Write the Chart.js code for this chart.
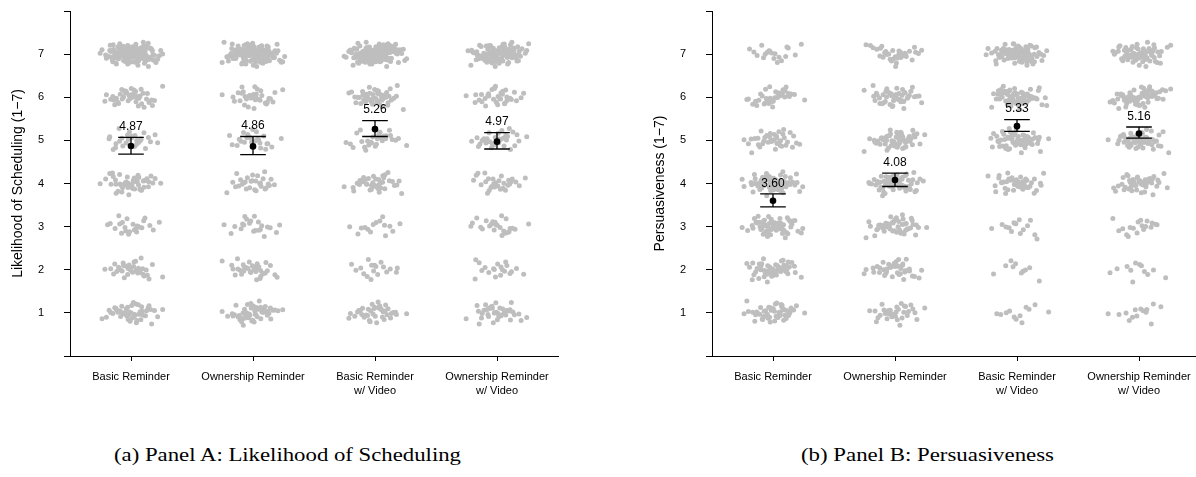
<!DOCTYPE html>
<html><head><meta charset="utf-8">
<script src="https://cdn.jsdelivr.net/npm/chart.js@4/dist/chart.umd.min.js"></script>
<style>
html,body{margin:0;padding:0;background:#fff;overflow:hidden;}
#wrap{position:relative;width:1196px;height:477px;overflow:hidden;background:#fff;}
canvas{position:absolute;top:0;}
#cA{left:0;} #cB{left:598px;}
.cap{position:absolute;top:444px;font-family:"Liberation Serif","DejaVu Serif",serif;font-size:19px;white-space:nowrap;color:#000;transform-origin:left top;}
</style></head>
<body>
<div id="wrap">
<canvas id="cA" width="598" height="400"></canvas>
<canvas id="cB" width="640" height="400"></canvas>
<span class="cap" id="capA" data-cx="287" data-w="347">(a) Panel A: Likelihood of Scheduling</span>
<span class="cap" id="capB" data-cx="927" data-w="253">(b) Panel B: Persuasiveness</span>
</div>
<script>
// ---- data ----
const categories = [["Basic Reminder"], ["Ownership Reminder"], ["Basic Reminder", "w/ Video"], ["Ownership Reminder", "w/ Video"]];
const levels = [1, 2, 3, 4, 5, 6, 7];
const yTickValues = [0, 1, 2, 3, 4, 5, 6, 7, 8];

// number of responses at each level 1..7 per condition
const countsA = [
  [50, 35, 25, 55, 30, 45, 158],
  [55, 35, 22, 30, 25, 35, 157],
  [40, 18, 15, 40, 30, 50, 163],
  [40, 20, 25, 30, 35, 35, 128]
];
const countsB = [
  [52, 55, 65, 70, 40, 40, 20],
  [35, 40, 50, 70, 60, 50, 35],
  [12, 10, 15, 45, 65, 75, 90],
  [14, 12, 18, 45, 55, 70, 75]
];
const meansA = [4.87, 4.86, 5.26, 4.97];
const ciLowA = [4.68, 4.67, 5.09, 4.80];
const ciHighA = [5.07, 5.09, 5.46, 5.18];
const meansB = [3.60, 4.08, 5.33, 5.16];
const ciLowB = [3.46, 3.93, 5.21, 5.05];
const ciHighB = [3.76, 4.24, 5.48, 5.31];

// fixed jitter table (standard-normal-like offsets)
const jitterX = [0.31,-1.18,0.77,-0.12,1.52,-0.64,0.05,2.08,-0.93,0.42,-1.71,0.68,-0.27,1.13,-0.49,0.19,-2.26,0.88,-0.81,1.34,-0.18,0.57,-1.42,0.11,1.83,-0.72,0.46,-1.03,0.29,-0.38,1.61,-1.14,0.02,0.83,-1.92,1.21,-0.33,0.39,-0.58,2.47,-0.22,0.71,-1.27,0.94,-0.07,-0.84,1.41,0.24,-1.58,0.63,-0.44,1.02,-0.15,0.52,-2.04,0.36,-0.69,1.28,-0.97,0.13,0.79,-1.36,0.58,-0.03,1.67,-0.52,0.21,-1.11,0.91,-0.26,-0.61,1.19,0.07,-1.49,0.47,-0.88,1.74,-0.31,0.66,-0.11,-1.83,0.99,0.34,-0.47,1.09,-0.74,0.16,-1.24,2.21,-0.41,0.54,-0.95,0.27,1.47,-0.19,-0.67,0.85,-1.62,0.44,-0.02,1.16,-1.07,0.6,-0.35,1.95,-0.78,0.09,-1.33,0.74,-0.56,0.38,1.39,-0.14,-1.98,0.82,-0.43,0.18,-0.86,1.56,-0.24,0.49,-1.16,1.05,-0.62,0.26,-0.09,2.32,-1.45,0.69,-0.37,0.03,1.24,-0.76,0.55,-1.56,0.14,0.96,-0.29,-1.01,1.71,-0.51,0.33,-0.17,1.12,-2.41,0.61,-0.66,0.22,1.36,-0.89,0.08,-1.21,0.78,-0.39,1.88,-0.05,-0.71,0.45,-1.39,1.01,-0.21,0.59,-1.66,0.28];
const jitterY = [-0.42,0.87,-1.31,0.15,0.63,-0.08,1.44,-0.77,0.36,-1.89,0.51,-0.23,1.07,-0.56,0.04,2.02,-1.12,0.29,-0.68,0.92,-0.35,1.58,-0.14,-0.97,0.47,1.26,-1.48,0.12,-0.31,0.75,-2.15,0.58,-0.04,1.18,-0.83,0.39,-0.61,1.73,-0.19,0.66,-1.26,0.21,0.98,-0.46,-1.63,0.33,1.37,-0.72,0.07,-0.28,1.92,-1.04,0.54,-0.15,0.81,-1.41,0.25,-0.53,1.11,-0.88,0.43,-0.02,-1.77,1.49,0.18,-0.39,0.72,-1.19,0.94,-0.64,0.1,1.64,-0.26,-1.08,0.5,-0.47,2.28,-0.81,0.31,-0.12,1.03,-1.55,0.62,-0.34,0.19,-0.93,1.31,-0.06,-2.37,0.77,-0.58,0.41,1.21,-0.21,-1.34,0.56,0.02,-0.74,1.82,-0.45,0.28,-1.15,0.69,-0.29,0.96,-1.71,0.13,0.52,-0.63,1.52,-0.1,-0.99,0.37,1.14,-0.51,-0.17,1.69,-1.28,0.46,-0.36,0.84,-0.86,0.06,2.11,-0.67,0.24,-1.46,0.79,-0.24,0.59,-1.03,1.39,-0.41,-0.13,0.89,-1.93,0.35,0.16,-0.79,1.09,-0.32,0.71,-1.22,0.01,1.57,-0.55,-0.19,0.44,-1.59,1.24,-0.7,0.23,0.65,-0.11,-1.37,0.85,-0.48,1.98,-0.9,0.32];

// ---- drawing ----
const JIT_SD_X = 0.105, JIT_SD_Y = 0.12, CAP = 0.105;
Chart.defaults.font.family = '"Liberation Sans", Arial, sans-serif';
Chart.defaults.color = '#000';

function buildPoints(counts, seedShift) {
  const pts = [];
  let cluster = 0;
  counts.forEach((row, g) => {
    row.forEach((n, k) => {
      const sx = (cluster * 37 + seedShift) % jitterX.length;
      const sy = (cluster * 53 + seedShift * 3) % jitterY.length;
      for (let j = 0; j < n; j++) {
        pts.push({x: g + jitterX[(sx + j) % jitterX.length] * JIT_SD_X,
                  y: levels[k] + jitterY[(sy + j) % jitterY.length] * JIT_SD_Y});
      }
      cluster++;
    });
  });
  return pts;
}
function buildBars(lo, hi) {
  const d = [];
  lo.forEach((l, g) => {
    d.push({x: g, y: l}, {x: g, y: hi[g]}, {x: g, y: null});
    d.push({x: g - CAP, y: hi[g]}, {x: g + CAP, y: hi[g]}, {x: g, y: null});
    d.push({x: g - CAP, y: l}, {x: g + CAP, y: l}, {x: g, y: null});
  });
  return d;
}

const meanLabels = {
  id: 'meanLabels',
  afterDatasetsDraw(chart, args, opts) {
    const {ctx, scales: {x, y}} = chart;
    ctx.save();
    ctx.font = '12px "Liberation Sans", Arial, sans-serif';
    ctx.fillStyle = '#000';
    ctx.textAlign = 'center';
    ctx.textBaseline = 'middle';
    opts.means.forEach((m, g) => {
      ctx.fillText(m.toFixed(2), x.getPixelForValue(g), y.getPixelForValue(opts.hi[g]) - 10.5);
    });
    ctx.restore();
  }
};

function makeChart(id, counts, means, lo, hi, title, padLeft, padRight, seedShift) {
  return new Chart(document.getElementById(id), {
    type: 'scatter',
    data: {
      datasets: [
        {data: buildPoints(counts, seedShift), order: 3, pointRadius: 2.5, pointBorderWidth: 0,
         pointBackgroundColor: '#BEBEBE', backgroundColor: '#BEBEBE', pointHoverRadius: 0},
        {data: buildBars(lo, hi), order: 2, showLine: true, spanGaps: false, pointRadius: 0,
         borderColor: '#000', borderWidth: 1.3},
        {data: means.map((m, g) => ({x: g, y: m})), order: 1, pointRadius: 3.3, pointBorderWidth: 0,
         pointBackgroundColor: '#000'}
      ]
    },
    options: {
      responsive: false, animation: false,
      layout: {padding: {left: padLeft, right: padRight, top: 11, bottom: 0}},
      plugins: {legend: {display: false}, tooltip: {enabled: false},
                meanLabels: {means: means, hi: hi}},
      scales: {
        x: {type: 'linear', min: -0.5, max: 3.5,
            afterBuildTicks: s => { s.ticks = [0, 1, 2, 3].map(v => ({value: v})); },
            afterFit: s => { s.height = 44; s.paddingLeft = 0; s.paddingRight = 0; },
            ticks: {autoSkip: false, maxRotation: 0, minRotation: 0, padding: 9,
                    font: {size: 11, lineHeight: 1.27}, color: '#000',
                    callback: v => categories[v]},
            grid: {drawOnChartArea: false, drawTicks: true, tickLength: 5, color: '#000', lineWidth: 1},
            border: {display: true, color: '#000', width: 1}},
        y: {type: 'linear', min: 0, max: 8,
            afterBuildTicks: s => { s.ticks = yTickValues.map(v => ({value: v})); },
            afterFit: s => { s.width = 70; s.paddingTop = 0; s.paddingBottom = 0; },
            ticks: {padding: 20, font: {size: 11}, color: '#000',
                    callback: v => (v >= 1 && v <= 7) ? String(v) : ''},
            grid: {drawOnChartArea: false, drawTicks: true, tickLength: 6, color: '#000', lineWidth: 1},
            border: {display: true, color: '#000', width: 1},
            title: {display: true, text: title, font: {size: 14}, color: '#000', padding: {top: 10, bottom: 0}}}
      }
    },
    plugins: [meanLabels]
  });
}

makeChart('cA', countsA, meansA, ciLowA, ciHighA, 'Likelihood of Scheduling (1\u22127)', 0, 40, 0);
makeChart('cB', countsB, meansB, ciLowB, ciHighB, 'Persuasiveness (1\u22127)', 44, 38, 11);

// captions: center and fit to the measured width
document.querySelectorAll('.cap').forEach(el => {
  const w = el.getBoundingClientRect().width;
  const target = +el.dataset.w;
  const s = target / w;
  el.style.transform = 'scaleX(' + s + ')';
  el.style.left = (+el.dataset.cx - target / 2) + 'px';
});
</script>
</body></html>
